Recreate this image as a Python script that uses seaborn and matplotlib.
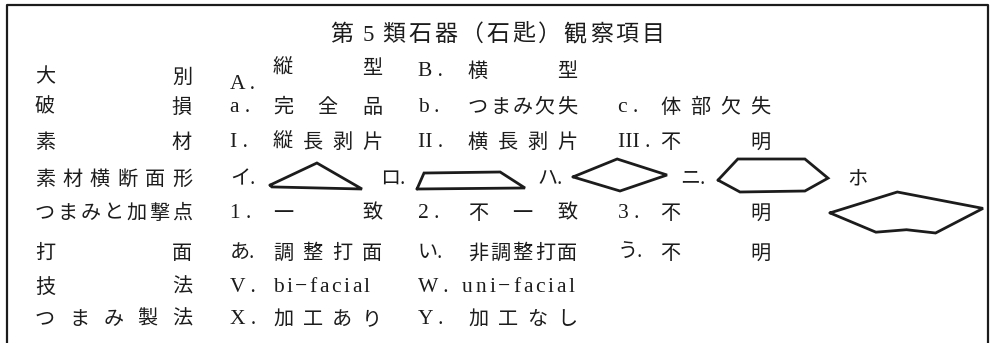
import matplotlib
matplotlib.use("Agg")
import matplotlib.pyplot as plt
import seaborn as sns
import numpy as np

# ==========================================
# Data
# ==========================================
title = "第5類石器（石匙）観察項目"
row_labels = ["大別", "破損", "素材", "素材横断面形",
              "つまみと加撃点", "打面", "技法", "つまみ製法"]

taibetsu = [("A", "縦型"), ("B", "横型")]
hason = [("a", "完全品"), ("b", "つまみ欠失"), ("c", "体部欠失")]
sozai = [("I", "縦長剥片"), ("II", "横長剥片"), ("III", "不明")]
danmen = ["イ", "ロ", "ハ", "ニ", "ホ"]
kageki = [("1", "一致"), ("2", "不一致"), ("3", "不明")]
damen = [("あ", "調整打面"), ("い", "非調整打面"), ("う", "不明")]
gihou = [("V", "bi−facial"), ("W", "uni−facial")]
seihou = [("X", "加工あり"), ("Y", "加工なし")]

# cross-section outlines in a unit box (y downward)
tri_x = [0, 0.51, 1, 0.02, 0]
tri_y = [0.85, 0, 1, 0.92, 0.85]
trap_x = [0, 0.065, 0.77, 1, 0]
trap_y = [1, 0.06, 0, 0.94, 1]
dia_x = [0, 0.47, 1, 0.5, 0]
dia_y = [0.56, 0, 0.5, 1, 0.56]
hex_x = [0, 0.18, 0.79, 1, 0.79, 0.2, 0]
hex_y = [0.64, 0, 0, 0.58, 0.97, 1, 0.64]
pent_x = [0, 0.44, 1, 0.69, 0.5, 0.3, 0]
pent_y = [0.51, 0, 0.4, 1, 0.92, 0.98, 0.51]
shapes = [(tri_x, tri_y), (trap_x, trap_y), (dia_x, dia_y),
          (hex_x, hex_y), (pent_x, pent_y)]

# ==========================================
# Layout
# ==========================================
W, H = 992, 343
row_y = [75, 105, 140, 177, 211, 251, 285, 317]
label_c = (45, 182)
prefix_x = [230, 418, 618]
body_span = [(283, 372), (478, 567), (670, 760)]
mark_x = [230, 380, 537, 680, 847]
shape_box = [(270, 163, 92, 26), (417, 172, 108, 17), (573, 159, 94, 32),
             (718, 159, 110, 33), (830, 192, 153, 41)]
INK = "#1c1c1c"
JP = 14.5
LAT = 15.5

sns.set_theme(style="white")
plt.rcParams['font.family'] = ['Liberation Serif', 'Noto Sans CJK JP', 'DejaVu Sans']

fig = plt.figure(figsize=(W / 100, H / 100), dpi=100)
ax = fig.add_axes([0, 0, 1, 1])


def spread(text, c0, c1, y, size=JP):
    # characters evenly spaced between two centres
    xs = np.linspace(c0, c1, len(text)) if len(text) > 1 else [c0]
    for ch, x in zip(text, xs):
        ax.text(x, y + 0.38 * size * 100 / 72, ch, ha="center", va="baseline",
                fontsize=size, color=INK)


def prefix(p, x, y):
    latin = p.isascii()
    size = LAT if latin else JP
    s = p + " ." if latin else p + "."
    ax.text(x, y + 7, s, ha="left", va="baseline", fontsize=size, color=INK)


def tracked(text, x0, x1, y, size=LAT):
    r = fig.canvas.get_renderer()
    arts = [ax.text(0, y + 7, ch, ha="left", va="baseline", fontsize=size,
                    color=INK) for ch in text]
    widths = [a.get_window_extent(r).width for a in arts]
    gap = (x1 - x0 - sum(widths)) / (len(text) - 1)
    x = x0
    for a, w in zip(arts, widths):
        a.set_x(x)
        x += w + gap


# title
spread(title, 342, 653, 32, size=16.5)

# row labels
for lab, y in zip(row_labels, row_y):
    spread(lab, label_c[0], label_c[1], y)

# 大別 (A. sits low, its text sits high)
prefix(taibetsu[0][0], prefix_x[0], 82)
spread(taibetsu[0][1], *body_span[0], 66)
prefix(taibetsu[1][0], prefix_x[1], 69)
spread(taibetsu[1][1], *body_span[1], 69)

# plain rows
for items, y in [(hason, row_y[1]), (sozai, row_y[2]), (kageki, row_y[4]),
                 (damen, row_y[5]), (seihou, row_y[7])]:
    for i, (p, body) in enumerate(items):
        prefix(p, prefix_x[i], y)
        spread(body, *body_span[i], y)

# 技法
tracked(gihou[0][1], 273, 370, row_y[6])
tracked(gihou[1][1], 462, 575, row_y[6])
for i, (p, _) in enumerate(gihou):
    prefix(p, prefix_x[i], row_y[6])

# cross-section shapes
for k, (m, (sx, sy), (bx, by, bw, bh)) in enumerate(zip(danmen, shapes, shape_box)):
    mark = m if m == "ホ" else m + "."
    ax.text(mark_x[k], row_y[3] + 7, mark, ha="left", va="baseline",
            fontsize=JP, color=INK)
    sns.lineplot(x=bx + np.array(sx) * bw, y=by + np.array(sy) * bh,
                 sort=False, estimator=None, color=INK, lw=2.0, ax=ax,
                 solid_joinstyle="miter")

# frame
ax.plot([7, 7, 988, 988], [H, 5, 5, H], color=INK, lw=1.6)

ax.set_xlim(0, W)
ax.set_ylim(H, 0)
ax.axis("off")

fig.savefig("out.png", dpi=100, facecolor="white")
